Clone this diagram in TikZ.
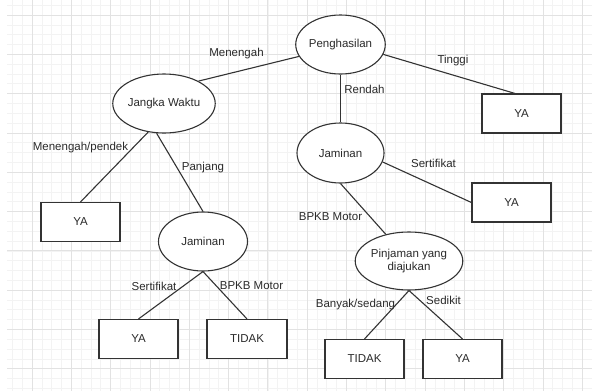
\documentclass[tikz,border=0pt]{standalone}
\usepackage{fontspec}
\setmainfont{Liberation Sans}
\usetikzlibrary{shapes.geometric}
\definecolor{ink}{HTML}{333333}
\definecolor{txt}{HTML}{2A2A2A}
\definecolor{gminor}{HTML}{F3F3F3}
\definecolor{gmajor}{HTML}{E2E2E2}
\begin{document}
\begin{tikzpicture}[x=1pt,y=-1pt,
  every node/.style={font=\fontsize{11.5}{13}\selectfont, text=txt},
  ell/.style={draw=ink, line width=1.1pt, ellipse, fill=white, inner sep=0pt, minimum width=89pt, minimum height=59pt},
  leaf/.style={draw=ink, line width=1.1pt, rectangle, fill=white, inner sep=0pt, minimum width=79pt, minimum height=39pt},
  conn/.style={draw=ink, line width=1.1pt},
  lbl/.style={inner sep=0pt, fill=none}
]
\useasboundingbox (0,0) rectangle (592,391);
\fill[white] (0,0) rectangle (592,391);
\begin{scope}
\clip (7,0) rectangle (592,391);
\foreach \i in {-3,...,60} {\draw[gminor, line width=0.6pt] ({32+9.825*\i},0) -- ({32+9.825*\i},391);}
\foreach \i in {-2,...,40} {\draw[gminor, line width=0.6pt] (0,{15+9.825*\i}) -- (592,{15+9.825*\i});}
\foreach \i in {-1,...,15} {\draw[gmajor, line width=0.8pt] ({32+39.3*\i},0) -- ({32+39.3*\i},391);}
\foreach \i in {-1,...,10} {\draw[gmajor, line width=0.8pt] (0,{15+39.3*\i}) -- (592,{15+39.3*\i});}
\end{scope}

% nodes
\node[ell, minimum width=87pt] (p) at (340.5,44.5) {Penghasilan};
\node[ell] (jw) at (164,103.5) {Jangka Waktu};
\node[leaf] (ya1) at (521.5,113.5) {YA};
\node[ell, minimum width=87pt, minimum height=60pt] (jr) at (340.5,153) {Jaminan};
\node[leaf] (ya2) at (511.5,202.5) {YA};
\node[leaf] (ya3) at (80.5,222) {YA};
\node[ell] (jl) at (203,241.5) {Jaminan};
\node[leaf] (ya4) at (138.5,339) {YA};
\node[leaf, minimum width=80pt] (td1) at (247,339) {TIDAK};
\node[ell, minimum height=58pt, align=center] (pj) at (409,261) {Pinjaman yang\\diajukan};
\node[leaf] (td2) at (364.5,359) {TIDAK};
\node[leaf] (ya5) at (462.5,359) {YA};

% connectors
\draw[conn] (p.196) -- (jw.33);
\draw[conn] (p.347) -- (ya1.108);
\draw[conn] (p.south) -- (jr.north);
\draw[conn] (jw.241) -- (ya3.north);
\draw[conn] (jw.256) -- (jl.north);
\draw[conn] (jl.south) -- (ya4.north);
\draw[conn] (jl.south) -- (td1.north);
\draw[conn] (jr.348) -- (ya2.west);
\draw[conn] (jr.south) -- (pj.131);
\draw[conn] (pj.south) -- (td2.north);
\draw[conn] (pj.south) -- (ya5.north);

% labels
\node[lbl] (l1) at (236.5,54) {Menengah};
\node[lbl] (l2) at (453,61) {Tinggi};
\node[lbl] (l3) at (364.5,89) {Rendah};
\node[lbl] (l4) at (80.5,148) {Menengah/pendek};
\node[lbl] (l5) at (203,168) {Panjang};
\node[lbl] (l6) at (154,286) {Sertifikat};
\node[lbl] (l7) at (251.5,286) {BPKB Motor};
\node[lbl] (l8) at (433.5,163) {Sertifikat};
\node[lbl] (l9) at (330.5,217) {BPKB Motor};
\node[lbl] (l10) at (355.5,305) {Banyak/sedang};
\node[lbl] (l11) at (443.5,300) {Sedikit};
\end{tikzpicture}
\end{document}
